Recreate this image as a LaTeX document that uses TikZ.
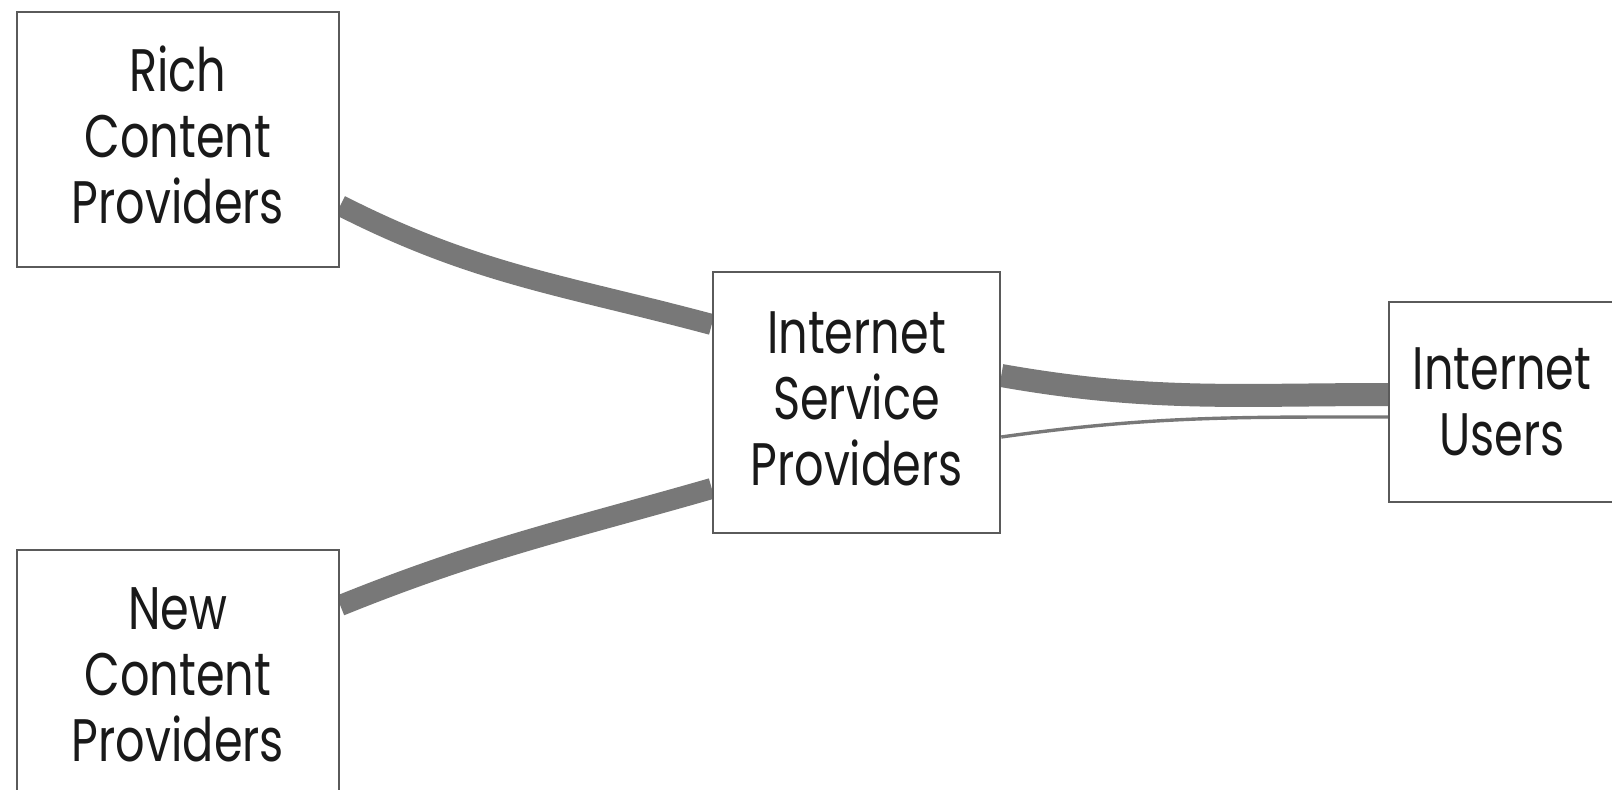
\documentclass[tikz,border=0pt]{standalone}
\usepackage{fontspec}
\setmainfont[FakeStretch=0.77]{Poppins}
\usetikzlibrary{backgrounds}
\definecolor{pipegray}{HTML}{787878}
\definecolor{boxgray}{HTML}{5A5A5A}

\tikzset{
  box/.style={draw=boxgray, line width=1.25pt, fill=white, align=center,
    inner sep=0pt, text=black!90, font=\fontsize{30}{33}\selectfont},
  pipe/.style={draw=pipegray, line width=10.5pt},
  thinpipe/.style={draw=pipegray, line width=1.7pt}
}

\begin{document}
\begin{tikzpicture}[x=0.5pt,y=0.5pt]
  \useasboundingbox (0,0) rectangle (1612,789);
  \clip (0,0) rectangle (1612,789);
 % boxes
  \node[box, minimum width=161pt, minimum height=127.5pt, text depth=5pt] (rich) at (178,649.5)
    {Rich\\Content\\Providers};
  \node[box, minimum width=161pt, minimum height=127.5pt, text depth=3pt] (new) at (178,111.5)
    {New\\Content\\Providers};
  \node[box, minimum width=143.5pt, minimum height=130.5pt, text depth=4pt] (isp) at (856.5,386.5)
    {Internet\\Service\\Providers};
  \node[box, minimum width=113pt, minimum height=100pt] (users) at (1502,387)
    {Internet\\Users};
 % links
  \begin{scope}[on background layer]
    \draw[pipe] ([yshift=-33pt]rich.east) to[out=-27,in=165] ([yshift=39pt]isp.west);
    \draw[pipe] ([yshift=36pt]new.east) to[out=22,in=-164] ([yshift=-43pt]isp.west);
    \draw[pipe, line width=11.5pt] ([yshift=13.5pt]isp.east) to[out=-10,in=180]
      ([yshift=3.75pt]users.west);
    \draw[thinpipe] ([yshift=-17.25pt]isp.east) to[out=8,in=180]
      ([yshift=-7.5pt]users.west);
  \end{scope}
\end{tikzpicture}
\end{document}
